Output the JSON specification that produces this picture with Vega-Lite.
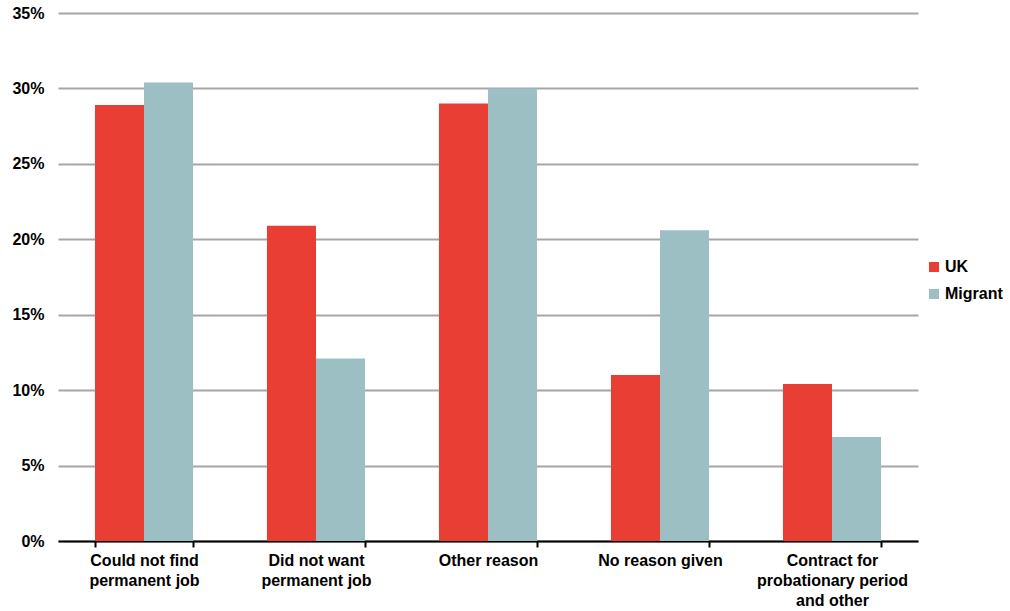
{
  "$schema": "https://vega.github.io/schema/vega-lite/v6.json",
  "width": 860,
  "height": 528,
  "autosize": {"type": "none"},
  "padding": {"left": 58, "top": 13, "right": 92, "bottom": 70},
  "background": "white",
  "data": {"values": [
    {"reason": "Could not find permanent job", "group": "UK", "share": 0.289},
    {"reason": "Could not find permanent job", "group": "Migrant", "share": 0.304},
    {"reason": "Did not want permanent job", "group": "UK", "share": 0.209},
    {"reason": "Did not want permanent job", "group": "Migrant", "share": 0.121},
    {"reason": "Other reason", "group": "UK", "share": 0.290},
    {"reason": "Other reason", "group": "Migrant", "share": 0.300},
    {"reason": "No reason given", "group": "UK", "share": 0.110},
    {"reason": "No reason given", "group": "Migrant", "share": 0.206},
    {"reason": "Contract for probationary period and other", "group": "UK", "share": 0.104},
    {"reason": "Contract for probationary period and other", "group": "Migrant", "share": 0.069}
  ]},
  "config": {
    "view": {"stroke": null},
    "font": "Arial, Liberation Sans"
  },
  "mark": {"type": "bar"},
  "encoding": {
    "x": {
      "field": "reason", "type": "nominal", "sort": null,
      "scale": {"paddingInner": 0.43, "paddingOuter": 0.215},
      "axis": {
        "title": null, "labelAngle": 0, "domainColor": "#000000", "domainWidth": 2,
        "tickColor": "#000000", "tickWidth": 2, "tickSize": 6, "tickBand": "extent",
        "labelFont": "Arial, Liberation Sans", "labelFontWeight": "bold", "labelFontSize": 16,
        "labelColor": "#000000", "labelPadding": 5, "labelLineHeight": 20, "labelLimit": 200,
        "labelExpr": "datum.value == 'Could not find permanent job' ? ['Could not find', 'permanent job'] : datum.value == 'Did not want permanent job' ? ['Did not want', 'permanent job'] : datum.value == 'Contract for probationary period and other' ? ['Contract for', 'probationary period', 'and other'] : datum.value"
      }
    },
    "xOffset": {"field": "group", "type": "nominal", "sort": ["UK", "Migrant"], "scale": {"paddingInner": 0, "paddingOuter": 0}},
    "y": {
      "field": "share", "type": "quantitative",
      "scale": {"domain": [0, 0.35], "nice": false},
      "axis": {
        "title": null, "format": ".0%", "values": [0, 0.05, 0.1, 0.15, 0.2, 0.25, 0.3, 0.35],
        "domain": false, "ticks": false, "grid": true, "gridColor": "#A6A6A6", "gridWidth": 2,
        "labelFont": "Arial, Liberation Sans", "labelFontWeight": "bold", "labelFontSize": 16,
        "labelColor": "#000000", "labelPadding": 14
      }
    },
    "color": {
      "field": "group", "type": "nominal", "sort": ["UK", "Migrant"],
      "scale": {"domain": ["UK", "Migrant"], "range": ["#E83E33", "#9BBFC2"]},
      "legend": {
        "title": null, "orient": "none", "legendX": 868, "legendY": 246,
        "symbolType": "square", "symbolSize": 100, "symbolStrokeWidth": 0,
        "labelFont": "Arial, Liberation Sans", "labelFontWeight": "bold", "labelFontSize": 16,
        "labelColor": "#000000", "rowPadding": 11, "labelOffset": 3
      }
    }
  }
}
